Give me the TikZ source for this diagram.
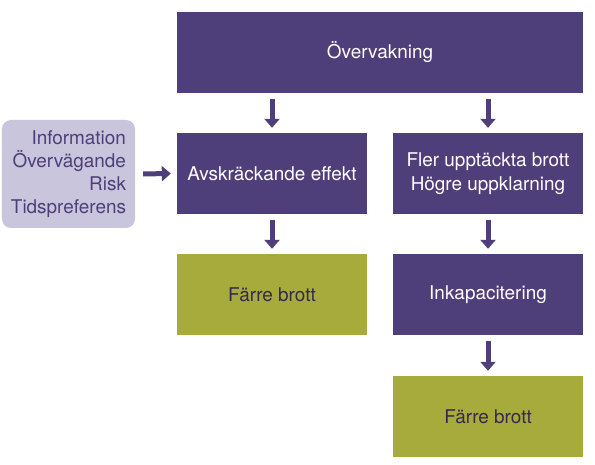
\documentclass[tikz,border=0pt]{standalone}
\usepackage{fontspec}
\setmainfont{TeX Gyre Heros}
\usetikzlibrary{arrows.meta}
\definecolor{dpurple}{HTML}{4E3F7A}
\definecolor{olive}{HTML}{A6AB3C}
\definecolor{lav}{HTML}{C9C5DC}
\definecolor{dtext}{HTML}{35294F}
\begin{document}
\begin{tikzpicture}[x=1bp,y=-1bp,
  pbox/.style={fill=dpurple,text=white,inner sep=0pt,align=center,font=\fontsize{19}{24}\selectfont},
  obox/.style={fill=olive,text=dtext,inner sep=0pt,align=center,font=\fontsize{19}{24}\selectfont},
  arr/.style={draw=dpurple,line width=5bp,-{Triangle[width=15bp,length=9bp]},shorten <=6bp,shorten >=5bp}]
\useasboundingbox (0,0) rectangle (595,465);
\node[pbox,minimum width=406bp,minimum height=81bp] (top) at (380,52.5) {Övervakning};
\node[pbox,minimum width=190bp,minimum height=81bp] (avs) at (272,173.5) {Avskräckande effekt};
\node[pbox,minimum width=190bp,minimum height=81bp] (fler) at (488,173.5) {Fler upptäckta brott\\Högre uppklarning};
\node[obox,minimum width=190bp,minimum height=81bp] (f1) at (272,294.5) {Färre brott};
\node[pbox,minimum width=190bp,minimum height=81bp] (ink) at (488,294.5) {Inkapacitering};
\node[obox,minimum width=190bp,minimum height=81bp] (f2) at (488,416.5) {Färre brott};
\node[fill=lav,rounded corners=9bp,text=dpurple,align=right,inner sep=0pt,minimum width=133bp,minimum height=108bp,font=\fontsize{19}{23}\selectfont] (info) at (68.5,174) {};
\node[anchor=east,text=dpurple,align=right,inner sep=0pt,font=\fontsize{19}{23}\selectfont] (infotext) at ([xshift=-9bp]info.east) {Information\\Övervägande\\Risk\\Tidspreferens};
\draw[arr] (top.south -| avs.north) -- (avs.north);
\draw[arr] (top.south -| fler.north) -- (fler.north);
\draw[arr] (avs.south) -- (f1.north);
\draw[arr] (fler.south) -- (ink.north);
\draw[arr] (ink.south) -- (f2.north);
\draw[arr,shorten <=8bp,shorten >=6bp] (info.east) -- (avs.west);
\end{tikzpicture}
\end{document}
